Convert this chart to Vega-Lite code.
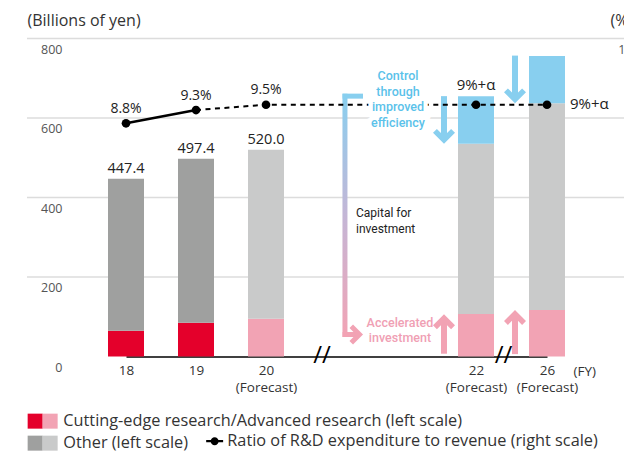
{
  "$schema": "https://vega.github.io/schema/vega-lite/v6.json",
  "width": 620,
  "height": 318,
  "autosize": {"type": "none"},
  "padding": {"left": 27, "top": 38.5, "right": 0, "bottom": 97},
  "background": "white",
  "config": {
    "font": "Open Sans",
    "view": {"stroke": null},
    "legend": {"labelFont": "Open Sans", "labelFontSize": 16.3, "labelColor": "#333", "labelLimit": 700, "padding": 0, "rowPadding": 5, "symbolStrokeWidth": 0, "symbolOpacity": 1}
  },
  "datasets": {
    "bars": [
      {"fy": 18, "part": 1, "cat": "Cutting-edge research/Advanced research (left scale)", "value": 65},
      {"fy": 18, "part": 2, "cat": "Other (left scale)", "value": 382.4},
      {"fy": 19, "part": 1, "cat": "Cutting-edge research/Advanced research (left scale)", "value": 85},
      {"fy": 19, "part": 2, "cat": "Other (left scale)", "value": 412.4},
      {"fy": 20, "part": 1, "cat": "Cutting-edge (forecast)", "value": 95},
      {"fy": 20, "part": 2, "cat": "Other (forecast)", "value": 425},
      {"fy": 22, "part": 1, "cat": "Cutting-edge (forecast)", "value": 107},
      {"fy": 22, "part": 2, "cat": "Other (forecast)", "value": 428},
      {"fy": 22, "part": 3, "cat": "Control through improved efficiency", "value": 120},
      {"fy": 26, "part": 1, "cat": "Cutting-edge (forecast)", "value": 117},
      {"fy": 26, "part": 2, "cat": "Other (forecast)", "value": 520},
      {"fy": 26, "part": 3, "cat": "Control through improved efficiency", "value": 119}
    ],
    "ratio": [
      {"fy": 18, "ratio": 8.8, "label": "8.8%"},
      {"fy": 19, "ratio": 9.3, "label": "9.3%"},
      {"fy": 20, "ratio": 9.5, "label": "9.5%"},
      {"fy": 22, "ratio": 9.5, "label": "9%+α"},
      {"fy": 26, "ratio": 9.5, "label": "9%+α"}
    ],
    "arrows": [
      {"fy": 22, "from": 655, "to": 535, "dir": "down"},
      {"fy": 26, "from": 757, "to": 637, "dir": "down"},
      {"fy": 22, "from": 7, "to": 106, "dir": "up"},
      {"fy": 26, "from": 6, "to": 117, "dir": "up"}
    ],
    "grid": [{"v": 200}, {"v": 400}, {"v": 600}, {"v": 800}]
  },
  "layer": [
    {
      "layer": [
        {
          "data": {"name": "grid"},
          "mark": {"type": "rule", "strokeWidth": 1.5, "color": "#dcdcdc"},
          "encoding": {
            "y": {"field": "v", "type": "quantitative"}
          }
        },
        {
          "data": {"name": "bars"},
          "mark": {"type": "bar", "width": 36},
          "encoding": {
            "x": {
              "field": "fy", "type": "quantitative",
              "scale": {"domain": [18, 20, 22, 26], "range": [99, 239, 449, 520], "nice": false, "zero": false, "padding": 0},
              "axis": {"values": [18, 19, 20, 22, 26], "format": "d", "labelExpr": "datum.value >= 20 ? [datum.label, '(Forecast)'] : datum.label", "labelFontSize": 13.5, "labelColor": "#333", "labelPadding": 7, "labelLineHeight": 16.5, "labelFlush": false, "labelOverlap": false, "ticks": false, "tickSize": 0, "domain": true, "domainColor": "#000", "domainWidth": 1.5, "grid": false, "title": "(FY)", "titleX": 546, "titleY": 14.5, "titleAlign": "left", "titleBaseline": "middle", "titleFontSize": 13.5, "titleFontWeight": "normal", "titleColor": "#333"}
            },
            "y": {
              "field": "value", "type": "quantitative", "stack": "zero",
              "scale": {"domain": [0, 800], "nice": false},
              "axis": {"values": [0, 200, 400, 600, 800], "grid": false, "domain": false, "ticks": false, "tickSize": 0, "labelAlign": "right", "labelBaseline": "middle", "labelPadding": -35, "labelOffset": 10.5, "labelFontSize": 12.5, "labelColor": "#555", "title": "(Billions of yen)", "titleAngle": 0, "titleAlign": "left", "titleBaseline": "alphabetic", "titleX": 0, "titleY": -13.5, "titleFontSize": 16, "titleFontWeight": "normal", "titleColor": "#333"}
            },
            "color": {
              "field": "cat", "type": "nominal",
              "scale": {"domain": ["Cutting-edge research/Advanced research (left scale)", "Other (left scale)", "Cutting-edge (forecast)", "Other (forecast)", "Control through improved efficiency"], "range": ["#E4002B", "#9FA09F", "#F2A3B4", "#C9CACA", "#88CFEF"]},
              "legend": {"values": ["Cutting-edge research/Advanced research (left scale)", "Other (left scale)"], "orient": "none", "legendX": 0, "legendY": 374.5, "title": null, "symbolType": "M-1,-1H1V1H-1Z", "symbolSize": 225, "labelOffset": 20}
            },
            "order": {"field": "part", "type": "quantitative"}
          }
        },
        {
          "data": {"values": [{}]},
          "transform": [{"filter": "false"}],
          "mark": {"type": "point", "filled": true, "opacity": 1},
          "encoding": {
            "fill": {
              "field": "k", "type": "nominal",
              "scale": {"domain": ["Cutting-edge (forecast)", "Other (forecast)"], "range": ["#F2A3B4", "#C9CACA"]},
              "legend": {"orient": "none", "legendX": 0, "legendY": 374.5, "title": null, "symbolType": "M1,-1H3V1H1Z", "symbolSize": 225, "labelExpr": "''"}
            }
          }
        },
        {
          "data": {"name": "arrows"},
          "transform": [{"filter": "datum.dir == 'down'"}],
          "mark": {"type": "rule", "strokeWidth": 6, "color": "#88CFEF", "xOffset": -32, "y2Offset": -5},
          "encoding": {
            "x": {"field": "fy", "type": "quantitative"},
            "y": {"field": "from", "type": "quantitative"},
            "y2": {"field": "to"}
          }
        },
        {
          "data": {"name": "arrows"},
          "transform": [{"filter": "datum.dir == 'down'"}],
          "mark": {"type": "point", "shape": "M0,0L1,-1L0.646,-1.354L0,-0.707L-0.646,-1.354L-1,-1Z", "filled": true, "size": 484, "opacity": 1, "color": "#88CFEF", "xOffset": -32},
          "encoding": {
            "x": {"field": "fy", "type": "quantitative"},
            "y": {"field": "to", "type": "quantitative"}
          }
        },
        {
          "data": {"name": "arrows"},
          "transform": [{"filter": "datum.dir == 'up'"}],
          "mark": {"type": "rule", "strokeWidth": 6, "color": "#F2A3B4", "xOffset": -32, "y2Offset": 5},
          "encoding": {
            "x": {"field": "fy", "type": "quantitative"},
            "y": {"field": "from", "type": "quantitative"},
            "y2": {"field": "to"}
          }
        },
        {
          "data": {"name": "arrows"},
          "transform": [{"filter": "datum.dir == 'up'"}],
          "mark": {"type": "point", "shape": "M0,0L1,-1L0.646,-1.354L0,-0.707L-0.646,-1.354L-1,-1Z", "filled": true, "size": 484, "opacity": 1, "color": "#F2A3B4", "xOffset": -32, "angle": 180},
          "encoding": {
            "x": {"field": "fy", "type": "quantitative"},
            "y": {"field": "to", "type": "quantitative"}
          }
        },
        {
          "data": {"values": [{}]},
          "mark": {"type": "bar", "width": 5, "color": {"gradient": "linear", "x1": 0, "y1": 0, "x2": 0, "y2": 1, "stops": [{"offset": 0, "color": "#88CFEF"}, {"offset": 0.5, "color": "#C4B6D6"}, {"offset": 1, "color": "#F2A3B4"}]}},
          "encoding": {
            "x": {"datum": 20.752},
            "y": {"datum": 661},
            "y2": {"datum": 49}
          }
        },
        {
          "data": {"values": [{}]},
          "mark": {"type": "rule", "strokeWidth": 5, "color": "#88CFEF"},
          "encoding": {
            "x": {"datum": 20.729},
            "x2": {"datum": 20.924},
            "y": {"datum": 655}
          }
        },
        {
          "data": {"values": [{}]},
          "mark": {"type": "rule", "strokeWidth": 5, "color": "#F2A3B4"},
          "encoding": {
            "x": {"datum": 20.729},
            "x2": {"datum": 20.88},
            "y": {"datum": 55.3}
          }
        },
        {
          "data": {"values": [{}]},
          "mark": {"type": "point", "shape": "M0,0L1,-1L0.646,-1.354L0,-0.707L-0.646,-1.354L-1,-1Z", "filled": true, "size": 400, "opacity": 1, "color": "#F2A3B4", "angle": 270},
          "encoding": {
            "x": {"datum": 20.924},
            "y": {"datum": 55.3}
          }
        },
        {
          "data": {"name": "bars"},
          "transform": [{"filter": "datum.fy <= 20"}, {"aggregate": [{"op": "sum", "field": "value", "as": "total"}], "groupby": ["fy"]}],
          "mark": {"type": "text", "baseline": "alphabetic", "dy": -6, "fontSize": 14.5, "color": "#222"},
          "encoding": {
            "x": {"field": "fy", "type": "quantitative"},
            "y": {"field": "total", "type": "quantitative"},
            "text": {"field": "total", "type": "quantitative", "format": ".1f"}
          }
        },
        {
          "data": {"values": [{}]},
          "mark": {"type": "text", "align": "left", "baseline": "middle", "fontSize": 12, "lineHeight": 16, "font": "Roboto", "color": "#222"},
          "encoding": {
            "x": {"datum": 20.857},
            "y": {"datum": 360.5},
            "text": {"value": ["Capital for", "investment"]}
          }
        },
        {
          "data": {"values": [{}]},
          "mark": {"type": "text", "align": "center", "baseline": "middle", "fontSize": 12.5, "lineHeight": 15, "fontWeight": 500, "font": "Roboto", "color": "#F0A0B4"},
          "encoding": {
            "x": {"datum": 21.276},
            "y": {"datum": 84.3},
            "text": {"value": ["Accelerated", "investment"]}
          }
        },
        {
          "data": {"values": [{"at": 20.533}, {"at": 23.549}]},
          "mark": {"type": "text", "align": "center", "baseline": "middle", "fontSize": 24, "dy": -1, "color": "#000"},
          "encoding": {
            "x": {"field": "at", "type": "quantitative"},
            "y": {"datum": 0},
            "text": {"value": "//"}
          }
        }
      ]
    },
    {
      "layer": [
        {
          "data": {"name": "ratio"},
          "transform": [{"filter": "datum.fy <= 19"}],
          "mark": {"type": "line", "strokeWidth": 2.5, "color": "#000"},
          "encoding": {
            "x": {"field": "fy", "type": "quantitative"},
            "y": {
              "field": "ratio", "type": "quantitative",
              "scale": {"domain": [0, 12], "nice": false},
              "axis": {"orient": "right", "values": [12], "grid": false, "domain": false, "ticks": false, "tickSize": 0, "labelAlign": "right", "labelBaseline": "middle", "labelPadding": -15, "labelOffset": 10.5, "labelFontSize": 12.5, "labelColor": "#555", "title": "(%)", "titleAngle": 0, "titleAlign": "left", "titleBaseline": "alphabetic", "titleX": -37, "titleY": -13.5, "titleFontSize": 16, "titleFontWeight": "normal", "titleColor": "#333"}
            }
          }
        },
        {
          "data": {"name": "ratio"},
          "transform": [{"filter": "datum.fy >= 19"}],
          "mark": {"type": "line", "strokeWidth": 2, "color": "#000", "strokeDash": [5, 4.5]},
          "encoding": {
            "x": {"field": "fy", "type": "quantitative"},
            "y": {"field": "ratio", "type": "quantitative"}
          }
        },
        {
          "data": {"name": "ratio"},
          "mark": {"type": "circle", "size": 75, "opacity": 1, "color": "#000"},
          "encoding": {
            "x": {"field": "fy", "type": "quantitative"},
            "y": {"field": "ratio", "type": "quantitative"}
          }
        },
        {
          "data": {"name": "ratio"},
          "transform": [{"filter": "datum.fy <= 20"}],
          "mark": {"type": "text", "baseline": "alphabetic", "dy": -10.5, "fontSize": 14, "color": "#222"},
          "encoding": {
            "x": {"field": "fy", "type": "quantitative"},
            "y": {"field": "ratio", "type": "quantitative"},
            "text": {"field": "label"}
          }
        },
        {
          "data": {"name": "ratio"},
          "transform": [{"filter": "datum.fy == 22"}],
          "mark": {"type": "text", "baseline": "alphabetic", "dy": -15, "fontSize": 15, "color": "#222"},
          "encoding": {
            "x": {"field": "fy", "type": "quantitative"},
            "y": {"field": "ratio", "type": "quantitative"},
            "text": {"field": "label"}
          }
        },
        {
          "data": {"name": "ratio"},
          "transform": [{"filter": "datum.fy == 26"}],
          "mark": {"type": "text", "align": "left", "baseline": "middle", "dx": 23, "dy": -1, "fontSize": 15, "color": "#222"},
          "encoding": {
            "x": {"field": "fy", "type": "quantitative"},
            "y": {"field": "ratio", "type": "quantitative"},
            "text": {"field": "label"}
          }
        },
        {
          "data": {"values": [{}]},
          "transform": [{"filter": "false"}],
          "mark": {"type": "point", "filled": true, "opacity": 1, "color": "#000"},
          "encoding": {
            "shape": {
              "datum": "Ratio of R&D expenditure to revenue (right scale)",
              "scale": {"range": ["M-1.06,-0.15H1.06V0.15H-1.06Z M0.5,0A0.5,0.5 0 1 1 -0.5,0A0.5,0.5 0 1 1 0.5,0Z"]},
              "legend": {"orient": "none", "legendX": 179.5, "legendY": 394.5, "title": null, "symbolSize": 256, "symbolFillColor": "#000", "labelOffset": 4.5}
            }
          }
        },
        {
          "data": {"values": [{}]},
          "mark": {"type": "text", "align": "center", "baseline": "middle", "fontSize": 12.5, "lineHeight": 15.7, "fontWeight": 500, "font": "Roboto", "color": "#fff", "stroke": "#fff", "strokeWidth": 9},
          "encoding": {
            "x": {"datum": 21.257},
            "y": {"datum": 10.585},
            "text": {"value": ["Control", "through", "improved", "efficiency"]}
          }
        },
        {
          "data": {"values": [{}]},
          "mark": {"type": "text", "align": "center", "baseline": "middle", "fontSize": 12.5, "lineHeight": 15.7, "fontWeight": 500, "font": "Roboto", "color": "#5BC2EA"},
          "encoding": {
            "x": {"datum": 21.257},
            "y": {"datum": 10.585},
            "text": {"value": ["Control", "through", "improved", "efficiency"]}
          }
        }
      ]
    }
  ],
  "resolve": {"scale": {"y": "independent"}, "axis": {"y": "independent"}}
}
